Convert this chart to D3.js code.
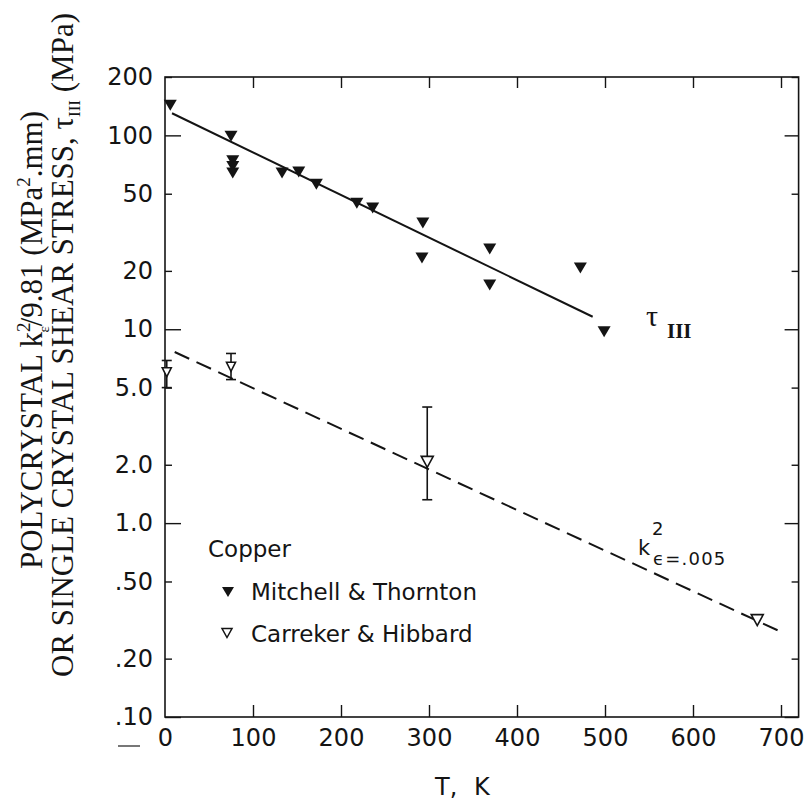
<!DOCTYPE html>
<html><head><meta charset="utf-8">
<script src="https://cdn.jsdelivr.net/npm/d3@7"></script>
<style>
body{margin:0;background:#fff}
svg{display:block}
</style></head><body>
<svg id="c" width="809" height="802"></svg>
<script>
// ---- data ----
const xTicks = [0,100,200,300,400,500,600,700];
const yTicks = [200,100,50,20,10,5,2,1,0.5,0.2,0.1];
const yTickLabels = ["200","100","50","20","10","5.0","2.0","1.0",".50",".20",".10"];

// Mitchell & Thornton (filled triangles): T (K), tau_III (MPa)
const mtT   = [6, 75, 77, 77, 77, 133, 152, 172, 218, 236, 292, 293, 369, 369, 472, 499];
const mtTau = [143, 99, 74, 69, 64, 64, 64.7, 56, 44.7, 42.2, 23.3, 35.3, 25.9, 16.9, 20.7, 9.7];

// Carreker & Hibbard (open triangles) with error bars
const chT  = [2, 75, 298, 673];
const chK  = [6.0, 6.4, 2.07, 0.316];
const chHi = [6.9, 7.5, 3.97, null];
const chLo = [5.0, 5.5, 1.32, null];

// fitted lines
const tauFitT = [8, 486],  tauFitV = [130, 11.6];
const kFitT   = [11, 703], kFitV   = [7.63, 0.271];

// ---- chart ----
const svg = d3.select("#c");
const x = d3.scaleLinear().domain([0,720]).range([165,798.6]);
const y = d3.scaleLog().domain([0.1,200]).range([717,77]);
const isDecade = d => Math.abs(Math.log10(d) - Math.round(Math.log10(d))) < 1e-6;
const ink = "#141414";
const sans = "'DejaVu Sans', 'Liberation Sans', sans-serif";
const serif = "'Liberation Serif', 'Times New Roman', serif";

// left axis
const gl = svg.append("g").attr("transform","translate(165,0)")
  .call(d3.axisLeft(y).tickValues(yTicks).tickFormat((d,i)=>yTickLabels[i])
        .tickSizeInner(-7).tickSizeOuter(0).tickPadding(12));
gl.selectAll(".tick line").attr("x2", d => isDecade(d) ? 16 : 7);
// right axis
const gr = svg.append("g").attr("transform","translate(798.6,0)")
  .call(d3.axisRight(y).tickValues(yTicks).tickFormat("").tickSizeInner(-7).tickSizeOuter(0));
gr.selectAll(".tick line").attr("x2", d => isDecade(d) ? -14 : -7);
// bottom axis
const gb = svg.append("g").attr("transform","translate(0,717)")
  .call(d3.axisBottom(x).tickValues(xTicks).tickSizeInner(-12).tickSizeOuter(0).tickPadding(12));
// top axis
const gt = svg.append("g").attr("transform","translate(0,77)")
  .call(d3.axisTop(x).tickValues(xTicks).tickFormat("").tickSizeInner(-11).tickSizeOuter(0));

[gl,gr,gb,gt].forEach(g=>{
  g.select(".domain").remove();
  g.selectAll(".tick line").attr("stroke",ink).attr("stroke-width",1.4);
  g.selectAll(".tick text").attr("fill",ink).style("font-family",sans)
    .style("font-size","24px");
});
gb.selectAll(".tick line").filter(d=>d===0).remove();
gt.selectAll(".tick line").filter(d=>d===0).remove();

// frame
svg.append("rect").attr("x",x(0)).attr("y",y(200))
  .attr("width",x(720)-x(0)).attr("height",y(0.1)-y(200))
  .attr("fill","none").attr("stroke",ink).attr("stroke-width",1.6);

// fit lines
const line = d3.line().x(d=>x(d[0])).y(d=>y(d[1]));
svg.append("path").datum(tauFitT.map((t,i)=>[t,tauFitV[i]]))
  .attr("d",line).attr("fill","none").attr("stroke",ink).attr("stroke-width",2);
svg.append("path").datum(kFitT.map((t,i)=>[t,kFitV[i]]))
  .attr("d",line).attr("fill","none").attr("stroke",ink).attr("stroke-width",2)
  .attr("stroke-dasharray","16,8");

// triangle path (pointing down), centered
const tri = (w,h) => `M${-w/2},${-h/2}L${w/2},${-h/2}L0,${h/2}Z`;

// filled markers
svg.append("g").selectAll("path").data(mtT.map((t,i)=>[t,mtTau[i]])).join("path")
  .attr("transform",d=>`translate(${x(d[0])},${y(d[1])})`)
  .attr("d",tri(13,11)).attr("fill",ink);

// error bars
const eb = svg.append("g").attr("stroke",ink).attr("stroke-width",1.6);
chT.forEach((t,i)=>{
  if (chHi[i]==null) return;
  const cx = x(t);
  eb.append("line").attr("x1",cx).attr("x2",cx).attr("y1",y(chHi[i])).attr("y2",y(chLo[i]));
  [chHi[i],chLo[i]].forEach(v=>eb.append("line").attr("x1",cx-5).attr("x2",cx+5).attr("y1",y(v)).attr("y2",y(v)));
});
// open markers
svg.append("g").selectAll("path").data(chT.map((t,i)=>[t,chK[i]])).join("path")
  .attr("transform",d=>`translate(${x(d[0])},${y(d[1])})`)
  .attr("d",(d,i)=> i<2 ? tri(9,9) : tri(12,11)).attr("fill","#fff").attr("stroke",ink).attr("stroke-width",1.6);

// curve labels
const tl = svg.append("text").attr("x",646).attr("y",326).attr("fill",ink)
  .style("font-family",serif).style("font-size","30px");
tl.append("tspan").text("τ");
tl.append("tspan").attr("x",667).attr("dy",12).style("font-size","21px").style("font-weight","bold").text("III");

const kl = svg.append("text").attr("x",638).attr("y",555).attr("fill",ink)
  .style("font-family",sans).style("font-size","21px");
kl.append("tspan").text("k");
kl.append("tspan").attr("x",652).attr("dy",-20).style("font-size","18px").text("2");
kl.append("tspan").attr("x",653).attr("dy",30).style("font-size","18px").style("letter-spacing","1.2px").text("ϵ=.005");

// legend
const lg = svg.append("g").attr("fill",ink).style("font-family",sans);
lg.append("text").attr("x",208).attr("y",557).style("font-size","23px").text("Copper");
lg.append("path").attr("transform","translate(228,592)").attr("d",tri(12,10)).attr("fill",ink);
lg.append("text").attr("x",251).attr("y",600).style("font-size","23px").text("Mitchell & Thornton");
lg.append("path").attr("transform","translate(227,633)").attr("d",tri(10,9)).attr("fill","#fff").attr("stroke",ink).attr("stroke-width",1.5);
lg.append("text").attr("x",251).attr("y",642).style("font-size","23px").text("Carreker & Hibbard");

// x title
svg.append("text").attr("x",435).attr("y",795).attr("fill",ink)
  .style("font-family",sans).style("font-size","24px").style("word-spacing","9px").text("T, K");

// y title (two lines, rotated)
const y1 = svg.append("text").attr("transform","translate(42,340) rotate(-90)").attr("text-anchor","middle")
  .attr("fill",ink).style("font-family",serif).style("font-size","31px");
y1.append("tspan").text("POLYCRYSTAL k");
y1.append("tspan").attr("dy",-12).style("font-size","19px").text("2");
y1.append("tspan").attr("dx",-10).attr("dy",19).style("font-size","15px").text("ε");
y1.append("tspan").attr("dy",-7).text("/9.81 (MPa");
y1.append("tspan").attr("dy",-12).style("font-size","19px").text("2");
y1.append("tspan").attr("dy",12).text(".mm)");

const y2 = svg.append("text").attr("transform","translate(73,345) rotate(-90)").attr("text-anchor","middle")
  .attr("fill",ink).style("font-family",serif).style("font-size","31px");
y2.append("tspan").text("OR SINGLE CRYSTAL SHEAR STRESS, τ");
y2.append("tspan").attr("dy",7).style("font-size","17px").text("III");
y2.append("tspan").attr("dy",-7).text(" (MPa)");

// scan artifact dash near origin
svg.append("line").attr("x1",118).attr("x2",140).attr("y1",746).attr("y2",746)
  .attr("stroke","#777").attr("stroke-width",2);
</script>
</body></html>
